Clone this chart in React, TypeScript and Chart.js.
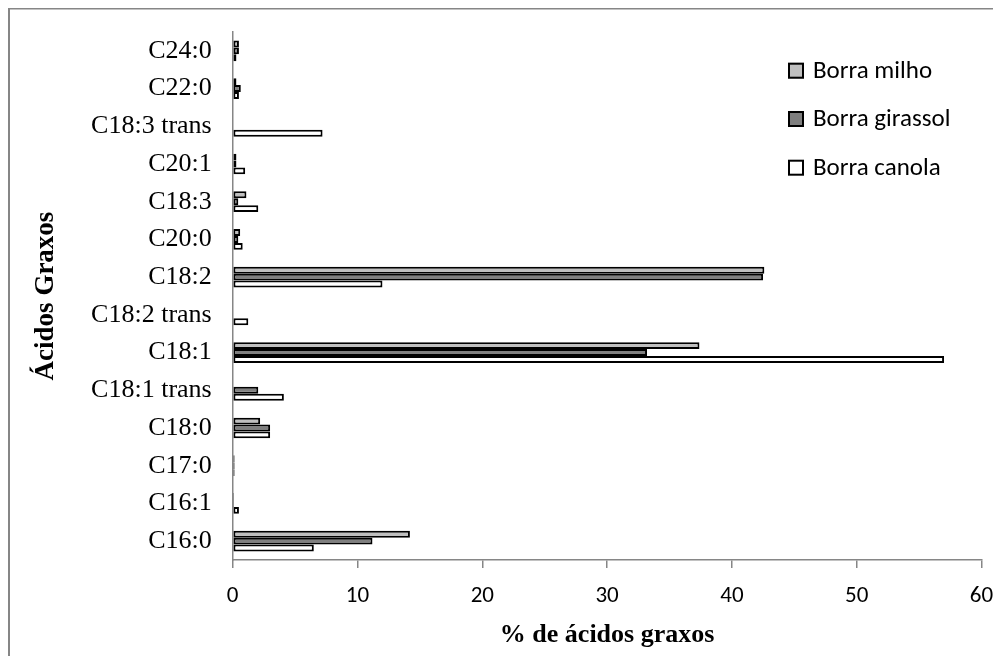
import React, { useEffect, useRef } from "react";
import { Chart, registerables } from "chart.js";

Chart.register(...registerables);

const categories = [
  "C24:0", "C22:0", "C18:3 trans", "C20:1", "C18:3", "C20:0", "C18:2",
  "C18:2 trans", "C18:1", "C18:1 trans", "C18:0", "C17:0", "C16:1", "C16:0",
];
const seriesNames = ["Borra milho", "Borra girassol", "Borra canola"];
const milho = [0.5, 0.3, 0, 0.3, 1.1, 0.6, 42.6, 0, 37.4, 0, 2.2, 0.15, 0.1, 14.2];
const girassol = [0.5, 0.65, 0, 0.3, 0.45, 0.45, 42.5, 0, 33.2, 2.05, 3.0, 0.15, 0.1, 11.2];
const canola = [0.3, 0.5, 7.2, 1.0, 2.05, 0.8, 12.0, 1.25, 57.0, 4.1, 3.0, 0.15, 0.5, 6.5];
const seriesColors = ["#bfbfbf", "#7f7f7f", "#ffffff"];
const xTicks = [0, 10, 20, 30, 40, 50, 60];
const xTitle = "% de ácidos graxos";
const yTitle = "Ácidos Graxos";

const SANS = "Carlito, Lato, sans-serif";
const SERIF = "'Liberation Serif', 'Times New Roman', serif";

export default function App() {
  const ref = useRef<HTMLCanvasElement | null>(null);
  useEffect(() => {
    document.body.style.overflow = "hidden";
    const canvas = ref.current;
    if (!canvas) return;
    const frame = {
      id: "frame",
      beforeDraw(chart: any) {
        const ctx = chart.ctx;
        ctx.save();
        ctx.fillStyle = "#868686";
        ctx.fillRect(0, 0, 2, chart.height);
        ctx.fillRect(0, 0, chart.width, 1.5);
        ctx.restore();
      },
    };
    const legendPlugin = {
      id: "customLegend",
      afterDraw(chart: any) {
        const ctx = chart.ctx;
        ctx.save();
        const x = 780;
        const ys = [62.7, 111, 159.7];
        chart.data.datasets.forEach((ds: any, i: number) => {
          const y = ys[i];
          ctx.fillStyle = ds.backgroundColor;
          ctx.fillRect(x, y - 8, 16, 16);
          ctx.strokeStyle = "#000";
          ctx.lineWidth = 2;
          ctx.strokeRect(x + 1, y - 7, 14, 14);
          ctx.fillStyle = "#000";
          ctx.font = `25px ${SANS}`;
          ctx.textBaseline = "middle";
          ctx.textAlign = "left";
          ctx.fillText(ds.label, x + 25, y + 1);
        });
        ctx.restore();
      },
    };
    const chart = new Chart(canvas, {
      type: "bar",
      data: {
        labels: categories,
        datasets: [milho, girassol, canola].map((vals, i) => ({
          label: seriesNames[i],
          data: vals.map((v) => (v === 0 ? null : v)),
          backgroundColor: seriesColors[i],
          borderColor: "#000000",
          borderWidth: 2,
          borderSkipped: false,
          categoryPercentage: 0.55,
          barPercentage: 1,
        })),
      },
      options: {
        indexAxis: "y",
        animation: false,
        responsive: true,
        maintainAspectRatio: false,
        layout: { padding: { left: 0, right: 19.5, top: 24, bottom: 0 } },
        plugins: {
          legend: { display: false },
          tooltip: { enabled: false },
        },
        scales: {
          x: {
            type: "linear",
            min: 0,
            max: 60,
            afterBuildTicks: (scale: any) => {
              scale.ticks = xTicks.map((v) => ({ value: v }));
            },
            afterFit: (scale: any) => {
              scale.height = 96;
            },
            grid: {
              drawOnChartArea: false,
              drawTicks: true,
              tickLength: 8,
              color: "#868686",
              lineWidth: 1.5,
            },
            border: { display: true, color: "#868686", width: 1.5 },
            ticks: {
              color: "#000",
              font: { family: SANS, size: 23, lineHeight: "56px" },
              padding: 0,
              maxRotation: 0,
            },
            title: {
              display: true,
              text: xTitle,
              color: "#000",
              font: { family: SERIF, size: 26, weight: "bold" },
              padding: { top: 0, bottom: 5 },
            },
          },
          y: {
            type: "category",
            afterFit: (scale: any) => {
              scale.width = 224.7;
            },
            grid: {
              display: true,
              drawOnChartArea: false,
              drawTicks: true,
              tickLength: 21,
              color: "rgba(0,0,0,0)",
            },
            border: { display: true, color: "#868686", width: 1.5 },
            ticks: {
              color: "#000",
              font: { family: SERIF, size: 26 },
              padding: 0,
              autoSkip: false,
            },
            title: {
              display: true,
              text: yTitle,
              color: "#000",
              font: { family: SERIF, size: 27, weight: "bold" },
              padding: { top: 22, bottom: 0 },
            },
          },
        },
      },
      plugins: [frame, legendPlugin],
    } as any);
    return () => chart.destroy();
  }, []);
  return (
    <div style={{ position: "relative", width: "993px", height: "648px" }}>
      <canvas ref={ref} />
    </div>
  );
}
